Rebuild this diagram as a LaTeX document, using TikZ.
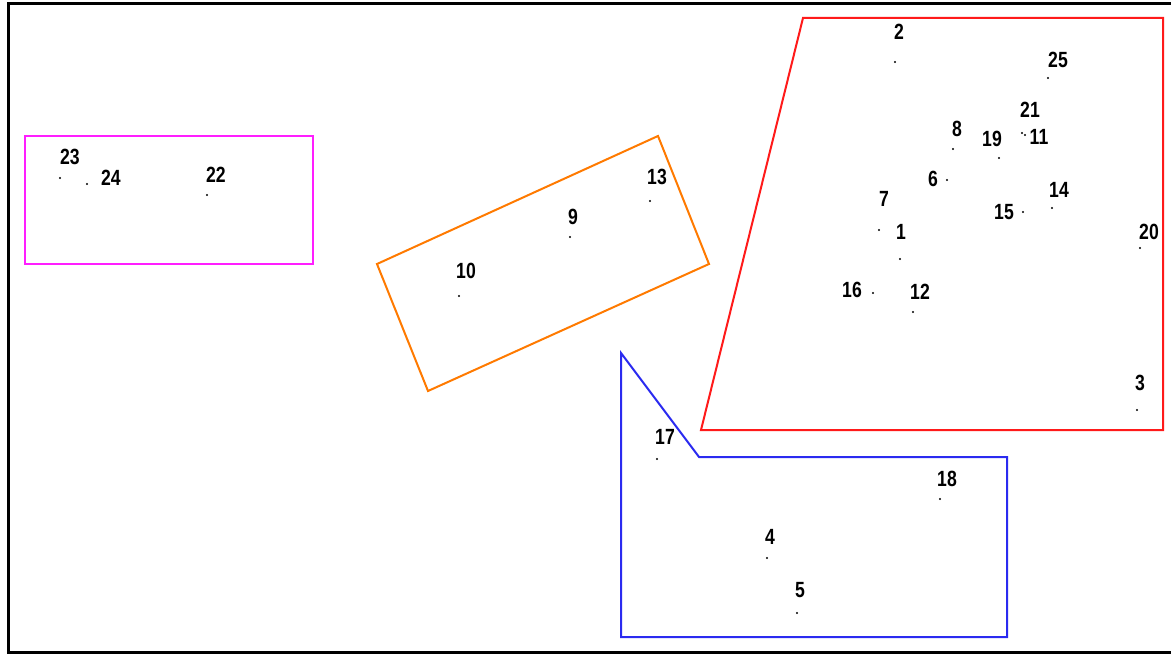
\documentclass[tikz,border=0pt]{standalone}
\usepackage{fontspec}
\setmainfont{Liberation Sans}
\usepackage{xcolor}
\usetikzlibrary{positioning}
\definecolor{figMagenta}{HTML}{FF1EFF}
\definecolor{figOrange}{HTML}{FF7A00}
\definecolor{figRed}{HTML}{FF1A1A}
\definecolor{figBlue}{HTML}{2A2AF0}

\begin{document}
\begin{tikzpicture}[
  x=1pt, y=-1pt,
  every node/.style={font=\fontsize{22}{22}\selectfont\bfseries},
  pt/.style={circle, fill=black, inner sep=0pt, minimum size=2.2pt},
  lab/.style={inner sep=0pt, xscale=0.8},
  zone/.style={line width=2pt},
]
\useasboundingbox (0,0) rectangle (1171,655);

% Frame (open on the right)
\draw[line width=3pt] (1171,4) -- (8,4) -- (8,652) -- (1171,652);

% Zones
\draw[zone, figMagenta] (25,136) rectangle (313,264);
\draw[zone, figOrange] (377,264) -- (658,136) -- (709,264) -- (428,391) -- cycle;
\draw[zone, figRed] (803,18) -- (1163,18) -- (1163,430) -- (701,430) -- cycle;
\draw[zone, figBlue] (621,353) -- (699,457) -- (1007,457) -- (1007,637) -- (621,637) -- cycle;

% Points: number / dot x / dot y / label x / label y
\foreach \n/\px/\py/\lx/\ly in {
  23/60/178/70/157, 24/87/184/111/178, 22/207/195/216/175,
  13/650/201/657/177, 9/570/237/573/217, 10/459/296/466/271,
  2/895/62/899/32, 25/1048/78/1058/60, 21/1022/133/1030/110,
  11/1025/135/1039/137, 8/953/149/957/129, 19/999/158/992/139,
  6/947/180/933/179, 7/879/230/884/199, 1/900/259/901/232,
  14/1052/208/1059/190, 15/1023/212/1004/212, 20/1140/248/1149/232,
  16/873/293/852/290, 12/913/312/920/292, 3/1137/410/1140/383,
  17/657/459/665/437, 18/940/499/947/479, 4/767/558/770/537,
  5/797/613/800/590} {
  \node[pt] (p\n) at (\px,\py) {};
  \node[lab] (l\n) at (\lx,\ly) {\n};
}
\end{tikzpicture}
\end{document}
